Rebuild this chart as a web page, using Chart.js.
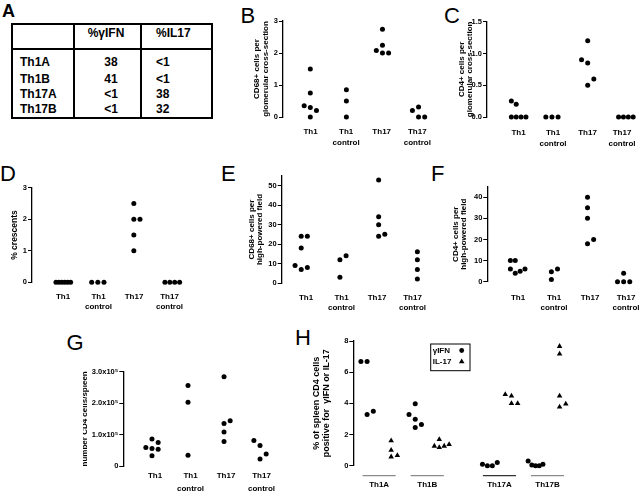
<!DOCTYPE html>
<html>
<head>
<meta charset="utf-8">
<script src="https://cdn.jsdelivr.net/npm/chart.js@4.4.1/dist/chart.umd.min.js"></script>
<style>
  html, body { margin: 0; padding: 0; background: #fff; }
  body { position: relative; width: 640px; height: 498px; overflow: hidden;
         font-family: "Liberation Sans", Arial, Helvetica, sans-serif; color: #000; }
  canvas { position: absolute; }
  .letter { position: absolute; font-size: 22px; line-height: 22px; font-weight: normal; }
  .tbl-box { position: absolute; left: 11px; top: 23px; width: 198px; height: 92px; border: 2px solid #000; }
  .rule { position: absolute; background: #000; }
  .cell { position: absolute; font-size: 12px; font-weight: bold; line-height: 14px; white-space: nowrap; }
</style>
</head>
<body>

<div class="letter" style="left:2px;top:1.7px;font-size:18px;line-height:18px;font-weight:bold">A</div>
<div class="letter" style="left:240.5px;top:5px">B</div>
<div class="letter" style="left:444px;top:5px">C</div>
<div class="letter" style="left:0px;top:163px">D</div>
<div class="letter" style="left:221px;top:163px">E</div>
<div class="letter" style="left:431px;top:163px">F</div>
<div class="letter" style="left:66.5px;top:332px">G</div>
<div class="letter" style="left:295px;top:327px">H</div>

<div class="tbl-box"></div>
<div class="rule" style="left:11px;top:48px;width:202px;height:2px"></div>
<div class="rule" style="left:73px;top:23px;width:2px;height:96px"></div>
<div class="rule" style="left:140px;top:23px;width:2px;height:96px"></div>
<div id="table"></div>

<script>
// ---- panel A table ----
const tableCols = ["%\u03b3IFN", "%IL17"];
const tableRows = ["Th1A", "Th1B", "Th17A", "Th17B"];
const tableIfn = ["38", "41", "<1", "<1"];
const tableIl17 = ["<1", "<1", "38", "32"];

// ---- shared categories ----
const groupNames = [["Th1"], ["Th1", "control"], ["Th17"], ["Th17", "control"]];
const groupPos = [1, 2, 3, 4];

// ---- B: CD68+ cells per glomerular cross-section ----
const cd68GlomTh1 = [1.5, 0.75, 0.35, 0.3, 0.2, 0];
const cd68GlomTh1Ctrl = [0.85, 0.5, 0];
const cd68GlomTh17 = [2.74, 2.24, 2.08, 2.0, 2.0];
const cd68GlomTh17Ctrl = [0.31, 0.2, 0, 0];
const cd68GlomTicks = [0, 1, 2, 3];
const cd68GlomTickLabels = ["0", "1", "2", "3"];

// ---- C: CD4+ cells per glomerular cross-section ----
const cd4GlomTh1 = [0.25, 0.2, 0, 0, 0, 0];
const cd4GlomTh1Ctrl = [0, 0, 0];
const cd4GlomTh17 = [1.2, 0.9, 0.85, 0.6, 0.5];
const cd4GlomTh17Ctrl = [0, 0, 0, 0];
const cd4GlomTicks = [0, 0.5, 1, 1.5];
const cd4GlomTickLabels = ["0.0", "0.5", "1.0", "1.5"];

// ---- D: % crescents ----
const crescTh1 = [0, 0, 0, 0, 0, 0];
const crescTh1Ctrl = [0, 0, 0];
const crescTh17 = [2.5, 2, 2, 1.5, 1];
const crescTh17Ctrl = [0, 0, 0, 0];
const crescTicks = [0, 1, 2, 3];
const crescTickLabels = ["0", "1", "2", "3"];

// ---- E: CD68+ cells per high-powered field ----
const cd68HpfTh1 = [24, 24, 18, 9, 8, 7];
const cd68HpfTh1Ctrl = [14, 12, 3];
const cd68HpfTh17 = [53, 34, 30, 25, 24];
const cd68HpfTh17Ctrl = [16, 12, 7, 2];
const cd68HpfTicks = [0, 10, 20, 30, 40, 50];
const cd68HpfTickLabels = ["0", "10", "20", "30", "40", "50"];

// ---- F: CD4+ cells per high-powered field ----
const cd4HpfTh1 = [10, 10, 6, 6, 5, 4];
const cd4HpfTh1Ctrl = [6, 4.7, 1];
const cd4HpfTh17 = [40, 35, 30, 20, 18];
const cd4HpfTh17Ctrl = [4, 0, 0, 0];
const cd4HpfTicks = [0, 10, 20, 30, 40];
const cd4HpfTickLabels = ["0", "10", "20", "30", "40"];

// ---- G: number CD4 cells/spleen ----
const spleenTh1 = [86000, 75000, 59000, 56000, 53000, 33000];
const spleenTh1Ctrl = [256000, 203000, 34000];
const spleenTh17 = [284000, 144000, 135000, 108000, 78000];
const spleenTh17Ctrl = [81000, 65000, 38000, 22000];
const spleenTicks = [0, 100000, 200000, 300000];
const spleenTickLabels = ["0", "1.0x10\u2075", "2.0x10\u2075", "3.0x10\u2075"];

// ---- H: % of spleen CD4 cells positive for IFN-g or IL-17 ----
const cloneNames = [["Th1A"], ["Th1B"], ["Th17A"], ["Th17B"]];
const cloneIfnPos = [1, 3, 6, 8];
const cloneIl17Pos = [2, 4, 7, 9];
const ifnTh1A = [6.68, 6.68, 3.49, 3.28];
const ifnTh1B = [3.98, 3.28, 2.98, 2.64, 2.45];
const ifnTh17A = [0.2, 0.1, 0, 0];
const ifnTh17B = [0.3, 0.1, 0.05, 0, 0];
const il17Th1A = [1.6, 1.0, 0.66, 0.57];
const il17Th1B = [1.68, 1.36, 1.26, 1.26, 1.17];
const il17Th17A = [4.57, 4.47, 4.0, 4.0];
const il17Th17B = [7.66, 7.17, 4.47, 3.96, 3.77];
const cloneTicks = [0, 2, 4, 6, 8];
const cloneTickLabels = ["0", "2", "4", "6", "8"];

// ---------------------------------------------------------------

const FONT = '"Liberation Sans", Arial, Helvetica, sans-serif';
Chart.defaults.font.family = FONT;
Chart.defaults.color = "#000";

const SLOT_PX = 6.3;      // horizontal step between touching dots
const MIN_GAP_PX = 6.5;   // dots closer than this vertically get pushed aside
const MAX_SPREAD_PX = 15; // crowded rows get squeezed to this width
const YW = 40, PT = 8, XH = 40;

// prism-like scatter: ascending values, crowded dots alternate right / left
function swarmSlots(values, pxPerUnit) {
  const order = values.map((v, i) => i).sort((a, b) => values[a] - values[b]);
  const placed = [];
  const slots = new Array(values.length);
  let flip = 1;
  for (const i of order) {
    const y = values[i] * pxPerUnit;
    const busy = (s) => placed.some((p) => p.slot === s && Math.abs(p.y - y) < MIN_GAP_PX);
    let slot = 0;
    if (busy(0)) {
      for (let k = 1; k < 20; k++) {
        if (!busy(flip * k)) { slot = flip * k; break; }
        if (!busy(-flip * k)) { slot = -flip * k; break; }
      }
      flip = -flip;
    }
    placed.push({ y, slot });
    slots[i] = slot;
  }
  const span = Math.max(...slots) - Math.min(...slots);
  const squeeze = span > 2 ? Math.min(1, MAX_SPREAD_PX / (SLOT_PX * span)) : 1;
  return slots.map((s) => s * squeeze);
}

function buildPoints(groups, positions, pxPerUnit, pxPerCat) {
  const pts = [];
  groups.forEach((vals, g) => {
    const slots = swarmSlots(vals, pxPerUnit);
    vals.forEach((v, i) => {
      pts.push({ x: positions[g] + (slots[i] * SLOT_PX) / pxPerCat, y: v });
    });
  });
  return pts;
}

function dotSet(data, style, radius) {
  return {
    data,
    pointStyle: style,
    pointRadius: radius,
    pointBackgroundColor: "#000",
    pointBorderColor: "#000",
    pointBorderWidth: 0,
    clip: false,
  };
}

// category labels under the dots and the rotated y title
function textPlugin(p, left) {
  return {
    id: "panelText",
    afterDraw(chart) {
      const { ctx, chartArea } = chart;
      const xs = chart.scales.x;
      ctx.save();
      ctx.fillStyle = "#000";
      ctx.textAlign = "center";
      ctx.textBaseline = "middle";
      ctx.font = "bold " + (p.catFontSize || 8) + "px " + FONT;
      p.catLabels.forEach((lines, i) => {
        const x = p.labelFirst != null
          ? p.labelFirst - left + i * p.labelStep
          : xs.getPixelForValue(p.catTicks[i]);
        lines.forEach((line, k) => {
          ctx.fillText(line, x, chartArea.bottom + p.labelGap + k * p.labelLine);
        });
      });

      const tf = p.titleSize || 8;
      ctx.font = "bold " + tf + "px " + FONT;
      const midY = (chartArea.top + chartArea.bottom) / 2;
      p.title.forEach((line, k) => {
        ctx.save();
        ctx.translate(p.titleX - left + k * (p.titleLine || 8.3), midY);
        ctx.rotate(-Math.PI / 2);
        ctx.fillText(line, 0, 0);
        ctx.restore();
      });
      ctx.restore();
    },
  };
}

function makePanel(p) {
  const left = Math.floor(p.axisX - YW);
  const top = Math.floor(p.yTop - PT);
  const yw = p.axisX - left;
  const padTop = p.yTop - top;
  const height = Math.ceil(p.yBottom - top + XH);
  const xh = height - (p.yBottom - top);
  const width = Math.ceil(p.right - left);

  const pxPerUnit = (p.yBottom - p.yTop) / p.yMax;
  const xMin = 1 - (p.firstCat - p.axisX) / p.catSpacing;
  const xMax = xMin + (width - yw) / p.catSpacing;

  const datasets = p.series.map((s) =>
    dotSet(buildPoints(s.groups, s.positions, pxPerUnit, p.catSpacing), s.style || "circle", s.radius || 2.5)
  );

  const canvas = document.createElement("canvas");
  canvas.width = width;
  canvas.height = height;
  canvas.style.left = left + "px";
  canvas.style.top = top + "px";
  document.body.appendChild(canvas);

  return new Chart(canvas, {
    type: "scatter",
    data: { datasets },
    options: {
      responsive: false,
      animation: false,
      devicePixelRatio: 1,
      layout: { padding: { top: padTop, left: 0, right: 0, bottom: xh } },
      plugins: { legend: { display: false }, tooltip: { enabled: false } },
      scales: {
        x: { type: "linear", min: xMin, max: xMax, display: false },
        y: {
          min: 0,
          max: p.yMax,
          afterFit: (s) => { s.width = yw; },
          afterBuildTicks: (s) => { s.ticks = p.yTicks.map((v) => ({ value: v })); },
          grid: { drawOnChartArea: false, tickLength: 4, color: "#000", lineWidth: 1 },
          border: { color: "#000", width: 1.3 },
          ticks: {
            padding: 1,
            color: "#000",
            font: { size: 7.5, weight: "bold" },
            callback: (v, i) => p.yTickLabels[i],
          },
        },
      },
    },
    plugins: [textPlugin(p, left)].concat(p.plugins || []),
  });
}

function renderTable() {
  const host = document.getElementById("table");
  const put = (text, x, y, align) => {
    const el = document.createElement("div");
    el.className = "cell";
    el.textContent = text;
    el.style.top = (y - 7) + "px";
    if (align === "center") {
      el.style.left = (x - 40) + "px";
      el.style.width = "80px";
      el.style.textAlign = "center";
    } else {
      el.style.left = x + "px";
    }
    host.appendChild(el);
  };
  put(tableCols[0], 106, 33, "center");
  put(tableCols[1], 156, 33, "left");
  const rowY = [62, 78.5, 94, 108.5];
  tableRows.forEach((r, i) => {
    put(r, 20, rowY[i], "left");
    put(tableIfn[i], 111, rowY[i], "center");
    put(tableIl17[i], 156, rowY[i], "left");
  });
}

const cloneDecor = {
  id: "cloneDecor",
  afterDraw(chart) {
    const { ctx, chartArea } = chart;
    const xs = chart.scales.x;
    const lineY = chartArea.bottom + 10;
    const shades = ["#8a8a8a", "#8a8a8a", "#333", "#8a8a8a"];
    ctx.save();
    ctx.lineWidth = 1.3;
    cloneIfnPos.forEach((a, i) => {
      ctx.strokeStyle = shades[i];
      ctx.beginPath();
      ctx.moveTo(xs.getPixelForValue(a) - 4.5, lineY);
      ctx.lineTo(xs.getPixelForValue(cloneIl17Pos[i]) + 4.5, lineY);
      ctx.stroke();
    });

    // legend box
    const bx = chartArea.left + 77.4, by = chartArea.top + 3;
    ctx.strokeStyle = "#000";
    ctx.lineWidth = 1;
    ctx.strokeRect(bx, by, 39.3, 26.7);
    ctx.fillStyle = "#000";
    ctx.font = "bold 8px " + FONT;
    ctx.textBaseline = "middle";
    ctx.fillText("\u03b3IFN", bx + 2, by + 6.5);
    ctx.fillText("IL-17", bx + 2, by + 17.5);
    ctx.beginPath();
    ctx.arc(bx + 31, by + 6.5, 2.4, 0, Math.PI * 2);
    ctx.fill();
    ctx.beginPath();
    ctx.moveTo(bx + 31, by + 14.6);
    ctx.lineTo(bx + 33.8, by + 19.3);
    ctx.lineTo(bx + 28.2, by + 19.3);
    ctx.closePath();
    ctx.fill();
    ctx.restore();
  },
};

function init() {
  renderTable();

  makePanel({
    axisX: 283, yTop: 21, yBottom: 117, yMax: 3, right: 444,
    firstCat: 311, catSpacing: 37,
    labelFirst: 310.5, labelStep: 35.6, labelGap: 15, labelLine: 11,
    yTicks: cd68GlomTicks, yTickLabels: cd68GlomTickLabels,
    catTicks: groupPos, catLabels: groupNames,
    title: ["CD68+ cells per", "glomerular cross-section"], titleX: 257,
    series: [{ groups: [cd68GlomTh1, cd68GlomTh1Ctrl, cd68GlomTh17, cd68GlomTh17Ctrl], positions: groupPos }],
  });

  makePanel({
    axisX: 487, yTop: 21.7, yBottom: 117, yMax: 1.5, right: 640,
    firstCat: 517, catSpacing: 36.7,
    labelFirst: 518.5, labelStep: 34.5, labelGap: 15.3, labelLine: 11,
    yTicks: cd4GlomTicks, yTickLabels: cd4GlomTickLabels,
    catTicks: groupPos, catLabels: groupNames,
    title: ["CD4+ cells per", "glomerular cross-section"], titleX: 461.5,
    series: [{ groups: [cd4GlomTh1, cd4GlomTh1Ctrl, cd4GlomTh17, cd4GlomTh17Ctrl], positions: groupPos }],
  });

  makePanel({
    axisX: 32, yTop: 187.7, yBottom: 282.3, yMax: 3, right: 215,
    firstCat: 62.5, catSpacing: 36.8,
    labelFirst: 63, labelStep: 35.5, labelGap: 14.7, labelLine: 10,
    yTicks: crescTicks, yTickLabels: crescTickLabels,
    catTicks: groupPos, catLabels: groupNames,
    title: ["% crescents"], titleX: 14.5, titleSize: 8.5,
    series: [{ groups: [crescTh1, crescTh1Ctrl, crescTh17, crescTh17Ctrl], positions: groupPos }],
  });

  makePanel({
    axisX: 281.7, yTop: 176, yBottom: 283, yMax: 55, right: 444,
    firstCat: 301.7, catSpacing: 39.7,
    labelFirst: 306, labelStep: 35.5, labelGap: 14.7, labelLine: 10,
    yTicks: cd68HpfTicks, yTickLabels: cd68HpfTickLabels,
    catTicks: groupPos, catLabels: groupNames,
    title: ["CD68+ cells per", "high-powered field"], titleX: 251.7,
    series: [{ groups: [cd68HpfTh1, cd68HpfTh1Ctrl, cd68HpfTh17, cd68HpfTh17Ctrl], positions: groupPos }],
  });

  makePanel({
    axisX: 487.3, yTop: 186.7, yBottom: 281.7, yMax: 45, right: 640,
    firstCat: 516, catSpacing: 37.1,
    labelFirst: 518, labelStep: 36, labelGap: 16, labelLine: 10,
    yTicks: cd4HpfTicks, yTickLabels: cd4HpfTickLabels,
    catTicks: groupPos, catLabels: groupNames,
    title: ["CD4+ cells per", "high-powered field"], titleX: 455.5, titleLine: 7.8,
    series: [{ groups: [cd4HpfTh1, cd4HpfTh1Ctrl, cd4HpfTh17, cd4HpfTh17Ctrl], positions: groupPos }],
  });

  makePanel({
    axisX: 123.3, yTop: 371.7, yBottom: 466, yMax: 300000, right: 290,
    firstCat: 152.7, catSpacing: 36.9,
    labelFirst: 155, labelStep: 35.5, labelGap: 9.7, labelLine: 13,
    yTicks: spleenTicks, yTickLabels: spleenTickLabels,
    catTicks: groupPos, catLabels: groupNames,
    title: ["number CD4 cells/spleen"], titleX: 85,
    series: [{ groups: [spleenTh1, spleenTh1Ctrl, spleenTh17, spleenTh17Ctrl], positions: groupPos }],
  });

  makePanel({
    axisX: 353.3, yTop: 341, yBottom: 465.7, yMax: 8, right: 640,
    firstCat: 367.3, catSpacing: 24.4,
    labelGap: 19.3, labelLine: 10,
    yTicks: cloneTicks, yTickLabels: cloneTickLabels,
    catTicks: cloneIfnPos.map((a, i) => (a + cloneIl17Pos[i]) / 2), catLabels: cloneNames,
    title: ["% of spleen CD4 cells", "positive for  \u03b3IFN or IL-17"], titleX: 316.7,
    titleSize: 9, titleLine: 10,
    series: [
      { groups: [ifnTh1A, ifnTh1B, ifnTh17A, ifnTh17B], positions: cloneIfnPos },
      { groups: [il17Th1A, il17Th1B, il17Th17A, il17Th17B], positions: cloneIl17Pos, style: "triangle", radius: 3.2 },
    ],
    plugins: [cloneDecor],
  });
}

document.addEventListener("DOMContentLoaded", init);
</script>
</body>
</html>
